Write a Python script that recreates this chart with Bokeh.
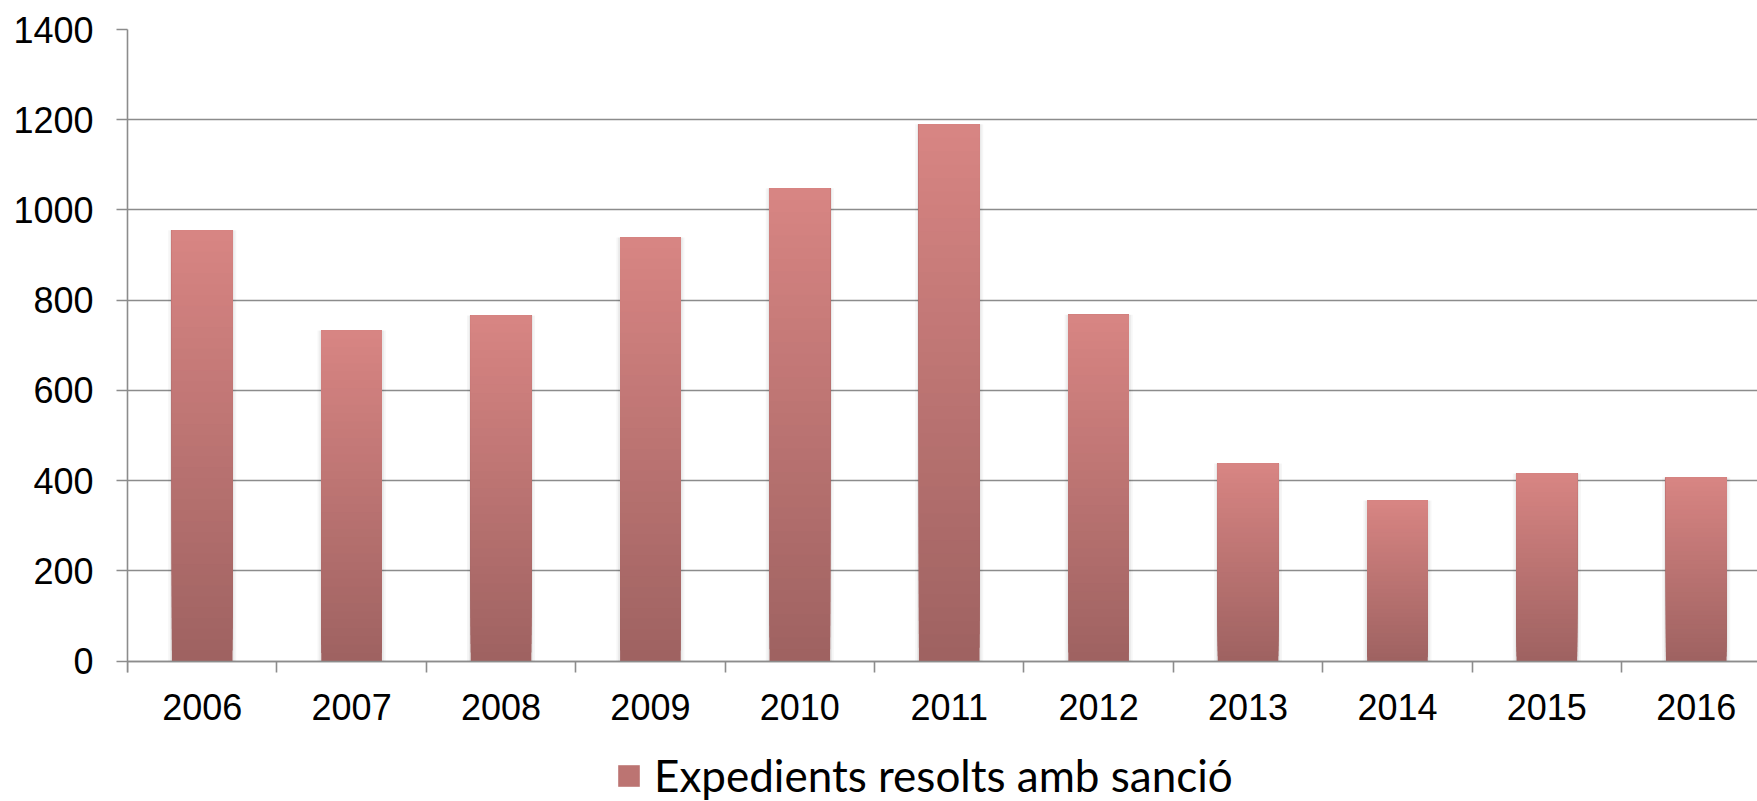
import numpy as np
from bokeh.plotting import figure
from bokeh.models import ColumnDataSource, Range1d, FixedTicker, Legend, LegendItem
from bokeh.embed import file_html
from bokeh.resources import INLINE

# ---- data ----
years = ["2006", "2007", "2008", "2009", "2010", "2011", "2012", "2013", "2014", "2015", "2016"]
values = [955, 733, 766, 939, 1048, 1190, 768, 438, 356, 416, 407]
y_ticks = [0, 200, 400, 600, 800, 1000, 1200, 1400]
series_name = "Expedients resolts amb sanció"

# ---- style ----
BAR_W = 0.406
N_SLICES = 40
TOP_RGB = (216, 133, 131)
BOT_RGB = (158, 98, 97)
GRID = "#8c8c8c"
Y_BOTTOM = -311   # extra room below zero for labels and legend


def mix(t):
    r = [int(round(b + (a - b) * t)) for a, b in zip(TOP_RGB, BOT_RGB)]
    return "#%02x%02x%02x" % tuple(r)


xs, bottoms, tops, colors = [], [], [], []
for i, v in enumerate(values):
    for k in range(N_SLICES):
        t = (k + 0.5) / N_SLICES
        xs.append(i + 0.5)
        bottoms.append(v * k / N_SLICES)
        tops.append(v)
        colors.append(mix(t))
src = ColumnDataSource(dict(x=xs, bottom=bottoms, top=tops, color=colors))

shadow = ColumnDataSource(dict(x=[i + 0.5 for i in range(len(values))], top=values))

p = figure(width=1757, height=801,
           x_range=Range1d(0, 10.91), y_range=Range1d(Y_BOTTOM, 1400),
           output_backend="svg", toolbar_location=None,
           min_border_left=127, min_border_right=0,
           min_border_top=29, min_border_bottom=0)
p.outline_line_color = None
p.background_fill_color = "white"
p.border_fill_color = "white"

# soft shadow
p.vbar(x="x", top="top", bottom=0, width=BAR_W + 0.05, source=shadow,
       fill_color="black", fill_alpha=0.035, line_color=None)
p.vbar(x="x", top="top", bottom=0, width=BAR_W + 0.025, source=shadow,
       fill_color="black", fill_alpha=0.05, line_color=None)

r = p.vbar(x="x", bottom="bottom", top="top", width=BAR_W, source=src,
           fill_color="color", line_color=None)

# grid
p.xgrid.grid_line_color = None
p.ygrid.ticker = FixedTicker(ticks=y_ticks)
p.ygrid.grid_line_color = GRID
p.ygrid.grid_line_width = 1.6

# y axis
p.yaxis.ticker = FixedTicker(ticks=y_ticks)
p.yaxis.bounds = (-24, 1400)
p.yaxis.axis_line_color = GRID
p.yaxis.axis_line_width = 1.6
p.yaxis.major_tick_line_color = GRID
p.yaxis.major_tick_line_width = 1.6
p.yaxis.major_tick_out = 11
p.yaxis.major_tick_in = 0
p.yaxis.minor_tick_line_color = None
p.yaxis.major_label_standoff = 23
p.yaxis.major_label_text_font = "Liberation Sans"
p.yaxis.major_label_text_font_size = "36px"
p.yaxis.major_label_text_color = "black"

# x axis, pinned at zero
centers = [i + 0.5 for i in range(len(years))]
p.xaxis.fixed_location = 0
p.xaxis.ticker = FixedTicker(ticks=centers, minor_ticks=list(range(len(years) + 1)))
p.xaxis.major_label_overrides = {c: y for c, y in zip(centers, years)}
p.xaxis.axis_line_color = GRID
p.xaxis.axis_line_width = 1.6
p.xaxis.major_tick_line_color = None
p.xaxis.major_tick_out = 0
p.xaxis.major_tick_in = 0
p.xaxis.minor_tick_line_color = GRID
p.xaxis.minor_tick_line_width = 1.6
p.xaxis.minor_tick_out = 11
p.xaxis.minor_tick_in = 0
p.xaxis.major_label_standoff = 22
p.xaxis.major_label_text_font = "Liberation Sans"
p.xaxis.major_label_text_font_size = "36px"
p.xaxis.major_label_text_color = "black"

legend = Legend(items=[LegendItem(label=series_name, renderers=[r], index=N_SLICES // 2)],
                location=(488, 0), orientation="horizontal",
                padding=0, margin=0, spacing=0,
                border_line_color=None, background_fill_alpha=0,
                glyph_width=27, glyph_height=27, label_standoff=12,
                label_text_font="Lato", label_text_font_size="44px",
                label_text_color="black")
p.add_layout(legend, "center")

open("out.html", "w").write(file_html(p, INLINE))
